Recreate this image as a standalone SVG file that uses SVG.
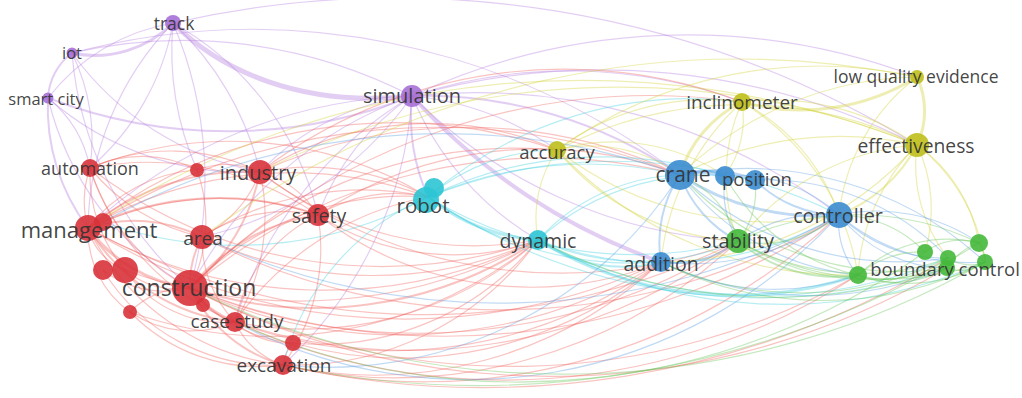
<svg xmlns="http://www.w3.org/2000/svg" width="1022" height="398" viewBox="0 0 1022 398">
<style>
#edges path{fill:none;stroke-width:1.2;stroke-opacity:0.38;stroke-linecap:round}
.p{stroke:#b57fe0}.r{stroke:#ee625b}.c{stroke:#3fcfdf}.y{stroke:#d3d13a}.b{stroke:#5c9fe2}.g{stroke:#66c456}
.w2{stroke-width:2px!important}.w3{stroke-width:3px!important}.w4{stroke-width:4px!important}.w5{stroke-width:5px!important}
.n circle{fill-opacity:0.9}
.np circle{fill:#a66fd6}.nr circle{fill:#d8323a}.nc circle{fill:#2cc4d4}.ny circle{fill:#bfbf1c}.nb circle{fill:#3b8cd0}.ng circle{fill:#44b83a}
text{font-family:"Open Sans","DejaVu Sans",sans-serif;fill:#333;fill-opacity:0.92;text-anchor:middle;dominant-baseline:central}
</style>
<rect width="1022" height="398" fill="#fff"/>
<g id="edges">
<path class="p w3" d="M72 53A110 110 0 0 0 173 23"/>
<path class="p w2" d="M72 53A60 60 0 0 0 48 98"/>
<path class="p" d="M48 98A200 200 0 0 1 173 23"/>
<path class="p w5" d="M173 23C220 70 300 108 412 96"/>
<path class="p" d="M72 53A500 500 0 0 1 412 96"/>
<path class="p w2" d="M48 98A500 500 0 0 0 412 96"/>
<path class="p" d="M173 23A250 250 0 0 1 90 168"/>
<path class="p" d="M173 23A300 300 0 0 0 197 170"/>
<path class="p" d="M173 23A300 300 0 0 1 260 172"/>
<path class="p" d="M173 23A300 300 0 0 0 88 228"/>
<path class="p" d="M173 23A400 400 0 0 1 190 288"/>
<path class="p" d="M173 23A300 300 0 0 1 318 215"/>
<path class="p" d="M72 53A200 200 0 0 1 90 168"/>
<path class="p" d="M72 53A350 350 0 0 0 190 288"/>
<path class="p" d="M72 53A300 300 0 0 0 260 172"/>
<path class="p" d="M48 98A120 120 0 0 1 90 168"/>
<path class="p w2" d="M48 98A200 200 0 0 0 88 228"/>
<path class="p" d="M48 98A300 300 0 0 0 190 288"/>
<path class="p" d="M48 98A300 300 0 0 0 260 172"/>
<path class="p w2" d="M412 96A200 200 0 0 0 428 197"/>
<path class="p w4" d="M412 96A600 600 0 0 0 661 262"/>
<path class="p" d="M412 96A300 300 0 0 0 538 240"/>
<path class="p" d="M412 96A300 300 0 0 1 557 150"/>
<path class="p" d="M412 96A500 500 0 0 1 742 102"/>
<path class="p" d="M260 172A250 250 0 0 1 412 96"/>
<path class="p" d="M318 215A250 250 0 0 1 412 96"/>
<path class="p" d="M190 288A400 400 0 0 1 412 96"/>
<path class="p" d="M202 237A350 350 0 0 0 412 96"/>
<path class="p" d="M88 228A500 500 0 0 1 412 96"/>
<path class="p" d="M412 96A500 500 0 0 0 738 241"/>
<path class="p" d="M412 96A600 600 0 0 1 839 215"/>
<path class="p" d="M283 365A400 400 0 0 0 412 96"/>
<path class="p" d="M235 322A400 400 0 0 1 412 96"/>
<path class="p" d="M412 96A700 700 0 0 1 917 145"/>
<path class="p w2" d="M412 96A450 450 0 0 1 680 175"/>
<path class="p" d="M173 23A1000 1000 0 0 1 917 145"/>
<path class="p" d="M412 96A650 650 0 0 1 917 77"/>
<path class="p" d="M72 53A700 700 0 0 1 680 175"/>
<path class="r" d="M90 168A100 100 0 0 0 88 228"/>
<path class="r" d="M90 168A200 200 0 0 0 190 288"/>
<path class="r" d="M90 168A200 200 0 0 1 260 172"/>
<path class="r" d="M90 168A200 200 0 0 0 202 237"/>
<path class="r" d="M90 168A150 150 0 0 0 125 270"/>
<path class="r" d="M90 168A120 120 0 0 1 197 170"/>
<path class="r" d="M90 168A300 300 0 0 1 318 215"/>
<path class="r" d="M90 168A250 250 0 0 0 235 322"/>
<path class="r" d="M197 170A80 80 0 0 1 260 172"/>
<path class="r" d="M197 170A150 150 0 0 1 190 288"/>
<path class="r" d="M88 228A150 150 0 0 1 197 170"/>
<path class="r w2" d="M190 288A200 200 0 0 0 260 172"/>
<path class="r w2" d="M88 228A250 250 0 0 1 260 172"/>
<path class="r" d="M202 237A120 120 0 0 0 260 172"/>
<path class="r" d="M260 172A100 100 0 0 1 318 215"/>
<path class="r" d="M235 322A200 200 0 0 0 260 172"/>
<path class="r" d="M260 172A250 250 0 0 1 428 197"/>
<path class="r" d="M260 172A350 350 0 0 0 538 240"/>
<path class="r" d="M260 172A500 500 0 0 1 680 175"/>
<path class="r w3" d="M88 228A150 150 0 0 0 190 288"/>
<path class="r w2" d="M88 228A150 150 0 0 1 202 237"/>
<path class="r" d="M88 228A60 60 0 0 0 125 270"/>
<path class="r w2" d="M88 228A300 300 0 0 1 318 215"/>
<path class="r w2" d="M88 228A200 200 0 0 0 235 322"/>
<path class="r" d="M88 228A250 250 0 0 0 283 365"/>
<path class="r" d="M88 228A100 100 0 0 0 130 312"/>
<path class="r" d="M88 228A400 400 0 0 1 428 197"/>
<path class="r" d="M88 228A700 700 0 0 0 738 241"/>
<path class="r w2" d="M202 237A100 100 0 0 0 190 288"/>
<path class="r" d="M202 237A150 150 0 0 1 318 215"/>
<path class="r" d="M202 237A120 120 0 0 0 235 322"/>
<path class="r" d="M202 237A300 300 0 0 1 428 197"/>
<path class="r" d="M202 237A400 400 0 0 0 538 240"/>
<path class="r w2" d="M190 288A200 200 0 0 1 318 215"/>
<path class="r" d="M235 322A150 150 0 0 1 318 215"/>
<path class="r" d="M283 365A200 200 0 0 0 318 215"/>
<path class="r" d="M318 215A150 150 0 0 1 428 197"/>
<path class="r" d="M318 215A250 250 0 0 0 538 240"/>
<path class="r" d="M318 215A400 400 0 0 1 680 175"/>
<path class="r w3" d="M190 288A100 100 0 0 0 235 322"/>
<path class="r w2" d="M190 288A150 150 0 0 0 283 365"/>
<path class="r" d="M190 288A150 150 0 0 0 293 343"/>
<path class="r" d="M190 288A80 80 0 0 0 130 312"/>
<path class="r" d="M190 288A80 80 0 0 1 125 270"/>
<path class="r" d="M190 288A300 300 0 0 1 428 197"/>
<path class="r w2" d="M190 288A400 400 0 0 0 538 240"/>
<path class="r" d="M190 288A550 550 0 0 1 680 175"/>
<path class="r" d="M190 288A500 500 0 0 0 661 262"/>
<path class="r" d="M190 288A600 600 0 0 0 738 241"/>
<path class="r" d="M190 288A700 700 0 0 0 839 215"/>
<path class="r" d="M190 288A700 700 0 0 0 858 275"/>
<path class="r" d="M190 288A780 780 0 0 0 947 268"/>
<path class="r" d="M190 288A450 450 0 0 1 557 150"/>
<path class="r" d="M190 288A650 650 0 0 1 742 102"/>
<path class="r" d="M235 322A80 80 0 0 0 283 365"/>
<path class="r" d="M235 322A80 80 0 0 0 293 343"/>
<path class="r" d="M235 322A300 300 0 0 1 428 197"/>
<path class="r" d="M235 322A350 350 0 0 0 538 240"/>
<path class="r" d="M235 322A450 450 0 0 0 661 262"/>
<path class="r" d="M235 322A550 550 0 0 0 738 241"/>
<path class="r" d="M235 322A650 650 0 0 0 858 275"/>
<path class="r" d="M283 365A40 40 0 0 1 293 343"/>
<path class="r" d="M283 365A420 420 0 0 0 661 262"/>
<path class="r" d="M283 365A300 300 0 0 0 538 240"/>
<path class="r" d="M283 365A500 500 0 0 0 738 241"/>
<path class="r" d="M283 365A900 900 0 0 0 948 258"/>
<path class="r" d="M293 343A280 280 0 0 0 538 240"/>
<path class="r" d="M130 312A180 180 0 0 0 283 365"/>
<path class="r" d="M103 270A100 100 0 0 0 190 288"/>
<path class="r" d="M125 270A120 120 0 0 0 235 322"/>
<path class="r" d="M88 228A600 600 0 0 0 661 262"/>
<path class="r" d="M88 228A650 650 0 0 1 680 175"/>
<path class="r" d="M88 228A480 480 0 0 0 538 240"/>
<path class="r" d="M260 172A320 320 0 0 1 557 150"/>
<path class="r" d="M260 172A500 500 0 0 0 738 241"/>
<path class="r" d="M90 168A480 480 0 0 0 538 240"/>
<path class="r" d="M130 312A110 110 0 0 0 235 322"/>
<path class="r" d="M103 270A200 200 0 0 0 283 365"/>
<path class="r" d="M88 228A500 500 0 0 1 557 150"/>
<path class="r" d="M90 168A380 380 0 0 1 428 197"/>
<path class="r" d="M283 365A600 600 0 0 0 839 215"/>
<path class="r" d="M293 343A400 400 0 0 0 661 262"/>
<path class="r" d="M130 312A420 420 0 0 0 538 240"/>
<path class="r" d="M202 237A650 650 0 0 0 839 215"/>
<path class="r" d="M318 215A350 350 0 0 0 661 262"/>
<path class="r" d="M260 172A500 500 0 0 1 742 102"/>
<path class="r" d="M103 222A300 300 0 0 1 318 215"/>
<path class="r" d="M125 270A500 500 0 0 0 538 240"/>
<path class="c w3" d="M428 197A200 200 0 0 0 538 240"/>
<path class="c" d="M428 197A200 200 0 0 1 557 150"/>
<path class="c" d="M428 197A400 400 0 0 1 680 175"/>
<path class="c" d="M428 197A350 350 0 0 0 661 262"/>
<path class="c" d="M428 197A400 400 0 0 0 738 241"/>
<path class="c" d="M428 197A500 500 0 0 1 839 215"/>
<path class="c" d="M428 197A400 400 0 0 1 725 176"/>
<path class="c w2" d="M538 240A150 150 0 0 0 661 262"/>
<path class="c" d="M538 240A200 200 0 0 1 680 175"/>
<path class="c" d="M538 240A250 250 0 0 0 738 241"/>
<path class="c" d="M538 240A350 350 0 0 0 839 215"/>
<path class="c w3" d="M538 240A380 380 0 0 0 858 275"/>
<path class="c" d="M538 240A480 480 0 0 0 948 258"/>
<path class="c" d="M428 197A600 600 0 0 0 947 268"/>
<path class="c" d="M538 240A250 250 0 0 1 755 180"/>
<path class="c" d="M283 365A250 250 0 0 1 428 197"/>
<path class="c" d="M103 222A400 400 0 0 0 428 197"/>
<path class="c" d="M538 240A500 500 0 0 0 985 262"/>
<path class="c" d="M428 197A400 400 0 0 1 742 102"/>
<path class="y" d="M557 150A150 150 0 0 1 680 175"/>
<path class="y" d="M557 150A250 250 0 0 1 742 102"/>
<path class="y" d="M557 150A400 400 0 0 1 917 145"/>
<path class="y" d="M557 150A350 350 0 0 0 839 215"/>
<path class="y" d="M557 150A250 250 0 0 0 738 241"/>
<path class="y" d="M557 150A120 120 0 0 0 538 240"/>
<path class="y" d="M557 150A200 200 0 0 1 725 176"/>
<path class="y w3" d="M742 102A120 120 0 0 0 680 175"/>
<path class="y w3" d="M742 102A220 220 0 0 0 917 77"/>
<path class="y" d="M742 102A250 250 0 0 1 917 145"/>
<path class="y" d="M742 102A180 180 0 0 0 738 241"/>
<path class="y" d="M742 102A100 100 0 0 1 725 176"/>
<path class="y" d="M742 102A200 200 0 0 1 839 215"/>
<path class="y" d="M742 102A250 250 0 0 1 858 275"/>
<path class="y w3" d="M917 77A80 80 0 0 1 917 145"/>
<path class="y" d="M917 77A200 200 0 0 0 839 215"/>
<path class="y w2" d="M839 215A150 150 0 0 0 917 145"/>
<path class="y" d="M738 241A250 250 0 0 1 917 145"/>
<path class="y" d="M858 275A200 200 0 0 1 917 145"/>
<path class="y" d="M917 145A150 150 0 0 1 925 252"/>
<path class="y" d="M917 145A150 150 0 0 1 979 243"/>
<path class="y" d="M917 145A180 180 0 0 1 985 262"/>
<path class="y" d="M917 145A150 150 0 0 0 948 258"/>
<path class="y" d="M680 175A350 350 0 0 1 917 145"/>
<path class="y" d="M661 262A350 350 0 0 0 917 145"/>
<path class="y" d="M661 262A250 250 0 0 1 742 102"/>
<path class="y" d="M680 175A350 350 0 0 1 917 77"/>
<path class="y" d="M557 150A400 400 0 0 0 858 275"/>
<path class="y" d="M260 172A800 800 0 0 1 917 145"/>
<path class="y" d="M202 237A900 900 0 0 1 917 77"/>
<path class="y" d="M557 150A450 450 0 0 1 917 77"/>
<path class="y" d="M88 228A900 900 0 0 1 917 145"/>
<path class="b w4" d="M680 175A80 80 0 0 1 725 176"/>
<path class="b w3" d="M680 175A120 120 0 0 1 755 180"/>
<path class="b w3" d="M680 175A250 250 0 0 0 839 215"/>
<path class="b w2" d="M680 175A120 120 0 0 0 661 262"/>
<path class="b w2" d="M680 175A120 120 0 0 0 738 241"/>
<path class="b" d="M725 176A150 150 0 0 1 839 215"/>
<path class="b w2" d="M755 180A120 120 0 0 0 839 215"/>
<path class="b" d="M661 262A250 250 0 0 0 839 215"/>
<path class="b" d="M738 241A150 150 0 0 1 839 215"/>
<path class="b" d="M839 215A80 80 0 0 0 858 275"/>
<path class="b" d="M839 215A150 150 0 0 0 948 258"/>
<path class="b" d="M839 215A180 180 0 0 1 979 243"/>
<path class="b" d="M839 215A200 200 0 0 0 985 262"/>
<path class="b" d="M839 215A140 140 0 0 0 947 268"/>
<path class="b" d="M680 175A250 250 0 0 0 858 275"/>
<path class="b" d="M680 175A320 320 0 0 0 948 258"/>
<path class="b" d="M661 262A250 250 0 0 0 858 275"/>
<path class="b" d="M661 262A350 350 0 0 0 947 268"/>
<path class="b" d="M725 176A100 100 0 0 0 738 241"/>
<path class="b" d="M755 180A250 250 0 0 1 948 258"/>
<path class="b w2" d="M661 262A100 100 0 0 0 738 241"/>
<path class="b" d="M680 175A350 350 0 0 1 985 262"/>
<path class="b" d="M103 222A700 700 0 0 1 680 175"/>
<path class="b" d="M202 237A700 700 0 0 0 839 215"/>
<path class="b" d="M283 365A420 420 0 0 0 680 175"/>
<path class="b" d="M235 322A500 500 0 0 0 839 215"/>
<path class="g w2" d="M738 241A150 150 0 0 0 858 275"/>
<path class="g" d="M738 241A250 250 0 0 0 948 258"/>
<path class="g" d="M738 241A250 250 0 0 0 947 268"/>
<path class="g" d="M738 241A280 280 0 0 1 979 243"/>
<path class="g" d="M738 241A120 120 0 0 0 839 215"/>
<path class="g" d="M738 241A80 80 0 0 0 755 180"/>
<path class="g" d="M858 275A100 100 0 0 1 925 252"/>
<path class="g" d="M858 275A100 100 0 0 0 948 258"/>
<path class="g" d="M925 252A60 60 0 0 1 979 243"/>
<path class="g" d="M948 258A40 40 0 0 0 985 262"/>
<path class="g" d="M979 243A30 30 0 0 1 985 262"/>
<path class="g" d="M947 268A40 40 0 0 0 985 262"/>
<path class="g" d="M858 275A150 150 0 0 0 985 262"/>
<path class="g" d="M858 275A100 100 0 0 0 947 268"/>
<path class="g" d="M738 241A300 300 0 0 0 985 262"/>
<path class="g" d="M839 215A120 120 0 0 1 925 252"/>
<path class="g" d="M661 262A330 330 0 0 0 948 258"/>
<path class="g" d="M538 240A520 520 0 0 0 947 268"/>
<path class="g" d="M680 175A100 100 0 0 1 738 241"/>
<path class="g" d="M661 262A360 360 0 0 0 985 262"/>
<path class="g" d="M858 275A130 130 0 0 1 979 243"/>
<path class="g" d="M190 288A850 850 0 0 0 985 262"/>
<path class="g" d="M283 365A950 950 0 0 0 979 243"/>
<path class="g" d="M725 176A200 200 0 0 0 858 275"/>
<path class="g" d="M680 175A300 300 0 0 0 947 268"/>
<path class="g" d="M947 268A60 60 0 0 1 979 243"/>
<path class="g" d="M235 322A700 700 0 0 0 925 252"/>
</g>
<g id="node-track" class="n np"><circle cx="173" cy="23" r="8"/><text x="174" y="23" font-size="17.5">track</text></g>
<g id="node-iot" class="n np"><circle cx="72" cy="53" r="5.5"/><text x="72" y="52" font-size="16.5">iot</text></g>
<g id="node-smart-city" class="n np"><circle cx="48" cy="98" r="5.5"/><text x="46" y="98" font-size="16.5">smart city</text></g>
<g id="node-simulation" class="n np"><circle cx="412" cy="96" r="11"/><text x="412" y="95" font-size="20">simulation</text></g>
<g id="node-automation" class="n nr"><circle cx="90" cy="168" r="9"/><text x="90" y="168" font-size="18">automation</text></g>
<g id="node-r2" class="n nr"><circle cx="197" cy="170" r="7"/></g>
<g id="node-industry" class="n nr"><circle cx="260" cy="172" r="12"/><text x="258" y="172" font-size="20">industry</text></g>
<g id="node-m2" class="n nr"><circle cx="103" cy="222" r="9"/></g>
<g id="node-management" class="n nr"><circle cx="88" cy="228" r="13"/><text x="89" y="229" font-size="22">management</text></g>
<g id="node-area" class="n nr"><circle cx="202" cy="237" r="12"/><text x="203" y="238" font-size="19">area</text></g>
<g id="node-safety" class="n nr"><circle cx="318" cy="215" r="11"/><text x="319" y="215" font-size="19.5">safety</text></g>
<g id="node-r8" class="n nr"><circle cx="103" cy="270" r="10"/></g>
<g id="node-r9" class="n nr"><circle cx="125" cy="270" r="13"/></g>
<g id="node-r11" class="n nr"><circle cx="203" cy="305" r="7"/></g>
<g id="node-r12" class="n nr"><circle cx="130" cy="312" r="7"/></g>
<g id="node-construction" class="n nr"><circle cx="190" cy="288" r="18"/><text x="189" y="287" font-size="23">construction</text></g>
<g id="node-case-study" class="n nr"><circle cx="235" cy="322" r="10"/><text x="237" y="321" font-size="19">case study</text></g>
<g id="node-r14" class="n nr"><circle cx="293" cy="343" r="8"/></g>
<g id="node-excavation" class="n nr"><circle cx="283" cy="365" r="10"/><text x="284" y="365" font-size="19">excavation</text></g>
<g id="node-robot" class="n nc"><circle cx="434" cy="188" r="10"/><circle cx="426" cy="200" r="13"/><text x="423" y="205" font-size="20.5">robot</text></g>
<g id="node-dynamic" class="n nc"><circle cx="538" cy="240" r="10"/><text x="538" y="240" font-size="19.5">dynamic</text></g>
<g id="node-accuracy" class="n ny"><circle cx="557" cy="150" r="9"/><text x="557" y="151" font-size="18.5">accuracy</text></g>
<g id="node-inclinometer" class="n ny"><circle cx="742" cy="102" r="9"/><text x="742" y="102" font-size="19">inclinometer</text></g>
<g id="node-low-quality-evidence" class="n ny"><circle cx="917" cy="77" r="7"/><text x="916" y="76" font-size="17.5">low quality evidence</text></g>
<g id="node-effectiveness" class="n ny"><circle cx="917" cy="145" r="12"/><text x="916" y="145" font-size="19.3">effectiveness</text></g>
<g id="node-crane" class="n nb"><circle cx="680" cy="175" r="15"/><text x="683" y="174" font-size="21">crane</text></g>
<g id="node-position" class="n nb"><circle cx="725" cy="176" r="10"/><circle cx="755" cy="180" r="10"/><text x="757" y="178" font-size="18.6">position</text></g>
<g id="node-controller" class="n nb"><circle cx="839" cy="215" r="13"/><text x="838" y="215" font-size="19.8">controller</text></g>
<g id="node-addition" class="n nb"><circle cx="661" cy="262" r="10"/><text x="661" y="263" font-size="19.5">addition</text></g>
<g id="node-stability" class="n ng"><circle cx="738" cy="241" r="12"/><text x="738" y="240" font-size="19.9">stability</text></g>
<g id="node-g1" class="n ng"><circle cx="858" cy="275" r="9"/></g>
<g id="node-g2" class="n ng"><circle cx="925" cy="252" r="8"/></g>
<g id="node-g3" class="n ng"><circle cx="948" cy="258" r="8"/></g>
<g id="node-g4" class="n ng"><circle cx="979" cy="243" r="9"/></g>
<g id="node-g5" class="n ng"><circle cx="985" cy="262" r="8"/></g>
<g id="node-boundary-control" class="n ng"><circle cx="947" cy="268" r="8"/><text x="945" y="268" font-size="18.5">boundary control</text></g>
</svg>
